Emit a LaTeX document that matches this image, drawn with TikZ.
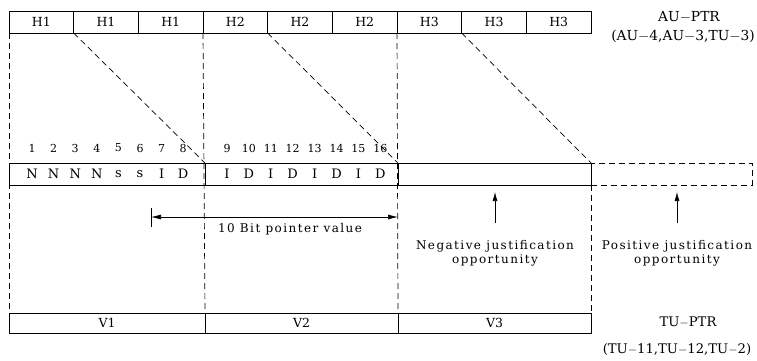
\documentclass[tikz,border=0pt]{standalone}
\usepackage{fontspec}
\setmainfont{DejaVu Serif}
\newfontfamily\spaced[LetterSpace=12]{DejaVu Serif}
\usetikzlibrary{arrows.meta}
\begin{document}
\begin{tikzpicture}[x=1pt,y=-1pt,
  cell/.style={draw, line width=0.8pt, minimum height=22pt, inner sep=0pt, outer sep=0pt, font=\fontsize{12.5}{14}\selectfont},
  hcell/.style={cell, minimum width=64.67pt},
  bcell/.style={cell},
  dline/.style={line width=0.7pt, dash pattern=on 6pt off 4pt},
  lbl/.style={inner sep=0pt, font=\fontsize{13}{15}\selectfont},
  side/.style={inner sep=0pt, font=\fontsize{13.8}{16}\selectfont},
  sideb/.style={inner sep=0pt, font=\fontsize{13.2}{15}\selectfont},
  num/.style={inner sep=0pt, font=\fontsize{11}{13}\selectfont},
  txt/.style={inner sep=0pt, align=center, font=\spaced\fontsize{12}{14}\selectfont},
  arr/.style={line width=0.7pt, -{Latex[length=9pt,width=5pt]}},
]
\useasboundingbox (0,0) rectangle (757,360);
% H row
\foreach \i/\t in {1/H1,2/H1,3/H1,4/H2,5/H2,6/H2,7/H3,8/H3,9/H3}{
  \node[hcell] (h\i) at ({9+64.67*(\i-0.5)},22) {\t};
}
% bit row
\node[bcell, minimum width=196pt] (b1) at (107,174) {};
\node[bcell, minimum width=193pt] (b2) at (301.5,174) {};
\node[bcell, minimum width=193pt] (b3) at (494.5,174) {};
\node[bcell, dline, minimum width=161pt] (b4) at (671.5,174) {};
% V row
\node[cell, minimum width=196pt, minimum height=20pt] (v1) at (107,323) {V1};
\node[cell, minimum width=193pt, minimum height=20pt] (v2) at (301.5,323) {V2};
\node[cell, minimum width=193pt, minimum height=20pt] (v3) at (494.5,323) {V3};
% dashed verticals
\draw[dline] (h1.south west) -- (v1.north west);
\draw[dline] (h4.south west) -- (v2.north west);
\draw[dline] (h7.south west) -- (v3.north west);
\draw[dline] (b3.south east) -- (v3.north east);
% diagonals
\draw[dline] (h2.south west) -- (b1.north east);
\draw[dline] (h5.south west) -- (b2.north east);
\draw[dline] (h8.south west) -- (b3.north east);
% bit numbers and letters
\foreach \i/\l in {1/N,2/N,3/N,4/N,5/s,6/s,7/I,8/D}{
  \node[num] (n\i) at ({32+21.6*(\i-1)},148) {\i};
  \node[lbl] (l\i) at ({32+21.6*(\i-1)},174) {\l};
}
\foreach \i/\l in {9/I,10/D,11/I,12/D,13/I,14/D,15/I,16/D}{
  \node[num] (n\i) at ({227+21.9*(\i-9)},148) {\i};
  \node[lbl] (l\i) at ({227+21.9*(\i-9)},174) {\l};
}
% pointer arrow
\coordinate (pa) at (151,217);
\coordinate (pb) at (398,217);
\coordinate (ta) at (151,208);
\coordinate (tb) at (151,227);
\draw[line width=0.8pt] (ta) -- (tb);
\draw[line width=0.7pt, {Latex[length=10pt,width=5pt]}-{Latex[length=10pt,width=5pt]}] (pa) -- (pb);
\node[txt] (pv) at (290,229) {10 Bit pointer value};
% justification
\node[txt] (neg) at (495,253) {Negative justification\\opportunity};
\node[txt] (pos) at (677,253) {Positive justification\\opportunity};
\draw[arr, shorten <=17pt, shorten >=7pt] (neg.north) -- (neg.north |- b3.south);
\draw[arr, shorten <=17pt, shorten >=7pt] (pos.north) -- (pos.north |- b4.south);
% side labels
\node[side] (au) at (689,17) {AU$-$PTR};
\node[side] (aus) at (683,36) {(AU$-$4,AU$-$3,TU$-$3)};
\node[sideb] (tu) at (688,322) {TU$-$PTR};
\node[sideb] (tus) at (677,350) {(TU$-$11,TU$-$12,TU$-$2)};
\end{tikzpicture}
\end{document}
